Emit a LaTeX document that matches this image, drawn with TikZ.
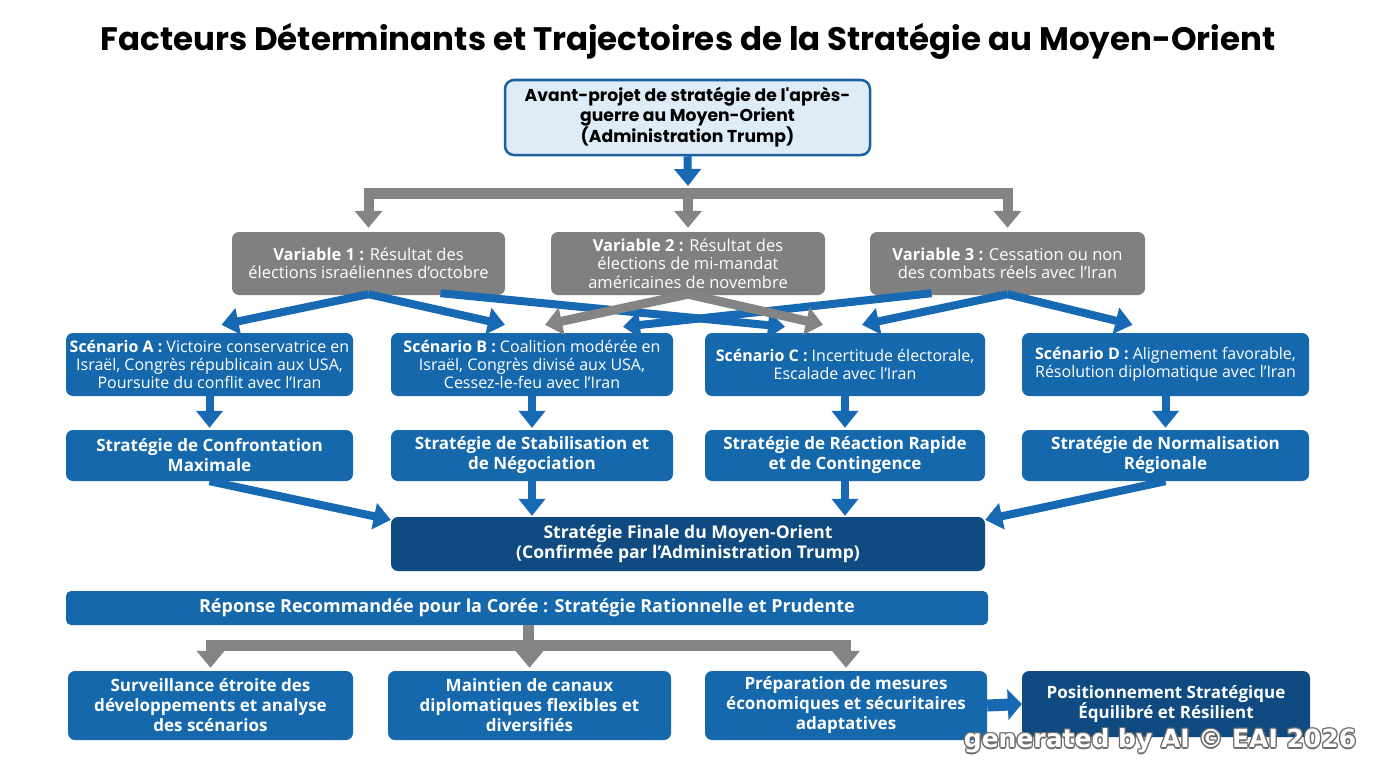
\documentclass[tikz,border=0pt]{standalone}
\usepackage{fontspec}
\setmainfont{Open Sans}
\newfontfamily\titlefont{Poppins}
\newfontfamily\wmfont{DejaVu Sans}
\usetikzlibrary{arrows.meta,calc}
\definecolor{bluebox}{RGB}{22,104,172}
\definecolor{darkbox}{RGB}{15,75,128}
\definecolor{grayfill}{RGB}{128,128,128}
\definecolor{topfill}{RGB}{222,236,248}
\definecolor{topdraw}{RGB}{28,98,160}
\definecolor{arrowblue}{RGB}{22,105,178}
\definecolor{arrowgray}{RGB}{132,132,132}
\definecolor{wmgray}{RGB}{110,110,110}
\tikzset{
  bx/.style={rounded corners=7pt, inner sep=0pt, align=center, text=white},
  varbox/.style={bx, fill=grayfill, minimum height=63, font=\fontsize{16.5}{18.5}\selectfont},
  scenbox/.style={bx, fill=bluebox, minimum height=63, font=\fontsize{16}{18}\selectfont},
  stratbox/.style={bx, fill=bluebox, minimum height=51, font=\bfseries\fontsize{17}{20}\selectfont},
  botbox/.style={bx, fill=bluebox, minimum height=69, font=\bfseries\fontsize{17}{20}\selectfont},
  barrow/.style={draw=arrowblue, line width=8pt, -{Triangle[length=17pt,width=26pt]}},
  garrow/.style={draw=arrowgray, line width=10pt, -{Triangle[length=17pt,width=27pt]}},
  gline/.style={draw=arrowgray, line width=11pt},
}
\begin{document}
\begin{tikzpicture}[x=1pt,y=-1pt]
\useasboundingbox[fill=white] (0,0) rectangle (1376,768);

% title
\node[font=\titlefont\bfseries\fontsize{32.5}{38}\selectfont, inner sep=0pt] (title) at (688,41) {Facteurs Déterminants et Trajectoires de la Stratégie au Moyen-Orient};

% top box
\node[rounded corners=9pt, fill=topfill, draw=topdraw, line width=2.5pt, minimum width=365, minimum height=75, inner sep=0pt, align=center, font=\titlefont\bfseries\fontsize{17.2}{19.5}\selectfont, text=black] (top) at (687.5,117.5) {Avant-projet de stratégie de l'après-\\guerre au Moyen-Orient\\(Administration Trump)};

% variables
\node[varbox, minimum width=273] (v1) at (368.5,263.5) {\textbf{Variable 1 :} Résultat des\\élections israéliennes d'octobre};
\node[varbox, minimum width=274] (v2) at (688,263.5) {\textbf{Variable 2 :} Résultat des\\élections de mi-mandat\\américaines de novembre};
\node[varbox, minimum width=275] (v3) at (1007.5,263.5) {\textbf{Variable 3 :} Cessation ou non\\des combats réels avec l'Iran};

% scenarios
\node[scenbox, minimum width=287] (a) at (209.5,364.5) {\textbf{Scénario A :} Victoire conservatrice en\\Israël, Congrès républicain aux USA,\\Poursuite du conflit avec l'Iran};
\node[scenbox, minimum width=282] (b) at (532,364.5) {\textbf{Scénario B :} Coalition modérée en\\Israël, Congrès divisé aux USA,\\Cessez-le-feu avec l'Iran};
\node[scenbox, minimum width=280] (c) at (845,364.5) {\textbf{Scénario C :} Incertitude électorale,\\Escalade avec l'Iran};
\node[scenbox, minimum width=287] (d) at (1165.5,364.5) {\textbf{Scénario D :} Alignement favorable,\\Résolution diplomatique avec l'Iran};

% strategies
\node[stratbox, minimum width=287] (sa) at (209.5,455.5) {Stratégie de Confrontation\\Maximale};
\node[stratbox, minimum width=282] (sb) at (532,455.5) {Stratégie de Stabilisation et\\de Négociation};
\node[stratbox, minimum width=280] (sc) at (845,455.5) {Stratégie de Réaction Rapide\\et de Contingence};
\node[stratbox, minimum width=287] (sd) at (1165.5,455.5) {Stratégie de Normalisation\\Régionale};

% final
\node[bx, fill=darkbox, minimum width=594, minimum height=54, font=\bfseries\fontsize{17.5}{20}\selectfont] (f) at (688,544) {Stratégie Finale du Moyen-Orient\\(Confirmée par l'Administration Trump)};

% response bar
\node[bx, rounded corners=5pt, fill=bluebox, minimum width=922, minimum height=34, font=\bfseries\fontsize{18}{20}\selectfont] (resp) at (527,608) {Réponse Recommandée pour la Corée : Stratégie Rationnelle et Prudente};

% bottom boxes
\node[botbox, minimum width=285] (b1) at (210.5,705.5) {Surveillance étroite des\\développements et analyse\\des scénarios};
\node[botbox, minimum width=283] (b2) at (529.5,705.5) {Maintien de canaux\\diplomatiques flexibles et\\diversifiés};
\node[botbox, minimum width=282] (b3) at (846,705.5) {Préparation de mesures\\économiques et sécuritaires\\adaptatives};
\node[bx, fill=darkbox, minimum width=288, minimum height=66, font=\bfseries\fontsize{17}{20}\selectfont] (b4) at (1166,704) {Positionnement Stratégique\\Équilibré et Résilient};

% top connectors
\coordinate (hub) at (688,193);
\draw[barrow] (top.south) -- ([yshift=7]hub);
\draw[gline] (hub -| v1.north) -- (hub -| v3.north);
\draw[garrow] ([yshift=5]hub -| v1.north) -- ([yshift=4]v1.north);
\draw[garrow] ([yshift=5]hub) -- ([yshift=4]v2.north);
\draw[garrow] ([yshift=5]hub -| v3.north) -- ([yshift=4]v3.north);

% variable -> scenario connectors
\draw[barrow] ([xshift=72,yshift=2]v1.south) -- ([xshift=-60,yshift=6]c.north);
\draw[barrow] ([xshift=-76,yshift=2]v3.south) -- ([xshift=91,yshift=6]b.north);
\draw[garrow, line width=9pt] ([yshift=1]v2.south) -- ([xshift=13,yshift=8]b.north);
\draw[garrow, line width=9pt] ([yshift=1]v2.south) -- ([xshift=-22,yshift=8]c.north);
\draw[barrow] ([yshift=1]v1.south) -- ([xshift=12,yshift=8]a.north);
\draw[barrow] ([yshift=1]v1.south) -- ([xshift=-27,yshift=8]b.north);
\draw[barrow] ([yshift=1]v3.south) -- ([xshift=17,yshift=8]c.north);
\draw[barrow] ([yshift=1]v3.south) -- ([xshift=-33,yshift=8]d.north);

% scenario -> strategy
\foreach \s/\t in {a/sa,b/sb,c/sc,d/sd}{
  \draw[barrow] (\s.south) -- ([yshift=2]\t.north);
}

% strategy -> final
\draw[barrow] (sa.south) -- ([yshift=-3]f.north west);
\draw[barrow] (sb.south) -- ([yshift=1]sb.south |- f.north);
\draw[barrow] (sc.south) -- ([yshift=1]sc.south |- f.north);
\draw[barrow] (sd.south) -- ([yshift=-3]f.north east);

% bottom connectors
\coordinate (hub2) at (528,645);
\draw[gline] (resp.south -| hub2) -- (hub2);
\draw[gline] (hub2 -| b1.north) -- (hub2 -| b3.north);
\draw[garrow] ([yshift=5]hub2 -| b1.north) -- ([yshift=3]b1.north);
\draw[garrow] ([yshift=5]hub2 -| b2.north) -- ([yshift=3]b2.north);
\draw[garrow] ([yshift=5]hub2 -| b3.north) -- ([yshift=3]b3.north);
\draw[barrow, line width=12pt, -{Triangle[length=14pt,width=30pt]}] (b3.east) -- (b4.west);

% watermark
\foreach \dx/\dy [count=\i] in {-1.3/0,1.3/0,0/-1.3,0/1.3,-1/-1,1/1,-1/1,1/-1}{
  \node[font=\wmfont\bfseries\fontsize{25}{29}\selectfont, text=wmgray, inner sep=0pt] (wm\i) at (1160+\dx,741+\dy) {generated by AI © EAI 2026};
}
\node[font=\wmfont\bfseries\fontsize{25}{29}\selectfont, text=white, inner sep=0pt] (wm) at (1160,741) {generated by AI © EAI 2026};
\end{tikzpicture}
\end{document}
